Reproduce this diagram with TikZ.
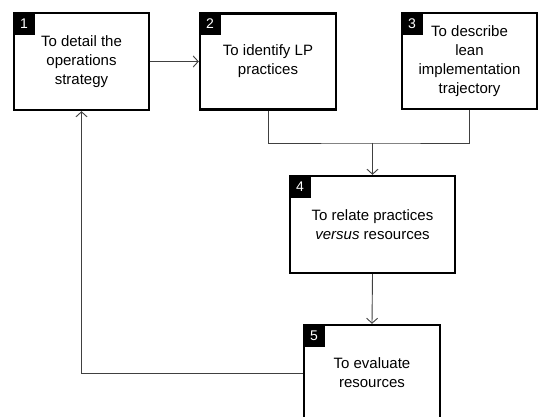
\documentclass[tikz,border=0pt]{standalone}
\usepackage{fontspec}
\setmainfont{Liberation Sans}
\usepackage{tikz}
\usetikzlibrary{positioning,calc,arrows.meta}

\tikzset{
    stage/.style={draw, line width=2.4pt, fill=white, align=center, inner sep=0pt,
        font=\fontsize{15}{19}\selectfont},
    tab/.style={fill=black, text=white, anchor=north west, minimum width=22pt,
        minimum height=23pt, inner sep=0pt, font=\fontsize{14}{14}\selectfont},
    link/.style={draw=black!75, line width=0.9pt},
    flow/.style={link, -{Straight Barb[length=5pt, width=11pt, line width=0.9pt]}},
}

\begin{document}
\begin{tikzpicture}[x=1pt, y=-1pt]
    \useasboundingbox (0,0) rectangle (538,417);

    % Stages
    \node[stage, minimum width=135pt, minimum height=97pt] (s1) at (81.5,61.5) {To detail the\\operations\\strategy};
    \node[stage, minimum width=136pt, minimum height=96pt] (s2) at (268,61.5) {To identify LP\\practices};
    \node[stage, minimum width=135pt, minimum height=96pt] (s3) at (469.5,61) {\raisebox{-3pt}{\begin{tabular}{@{}c@{}}To describe\\lean\\implementation\\trajectory\end{tabular}}};
    \node[stage, minimum width=165pt, minimum height=97pt] (s4) at (372.5,224.5) {To relate practices\\\textit{versus} resources};
    \node[stage, minimum width=136pt, minimum height=96pt] (s5) at (372,373) {To evaluate\\resources};

    % Numbers
    \node[tab] (t1) at (s1.north west) {1};
    \node[tab] (t2) at (s2.north west) {2};
    \node[tab] (t3) at (s3.north west) {3};
    \node[tab] (t4) at (s4.north west) {4};
    \node[tab] (t5) at (s5.north west) {5};

    % Connectors
    \coordinate (join) at (s4.north |- 0,143);
    \draw[flow] (s1.east) -- (s2.west);
    \draw[link] (s2.south) |- (join) -| (s3.south);
    \draw[flow] (join) -- (s4.north);
    \draw[flow] (s4.south) -- (s5.north);
    \draw[flow] (s5.west) -| (s1.south);
\end{tikzpicture}
\end{document}
